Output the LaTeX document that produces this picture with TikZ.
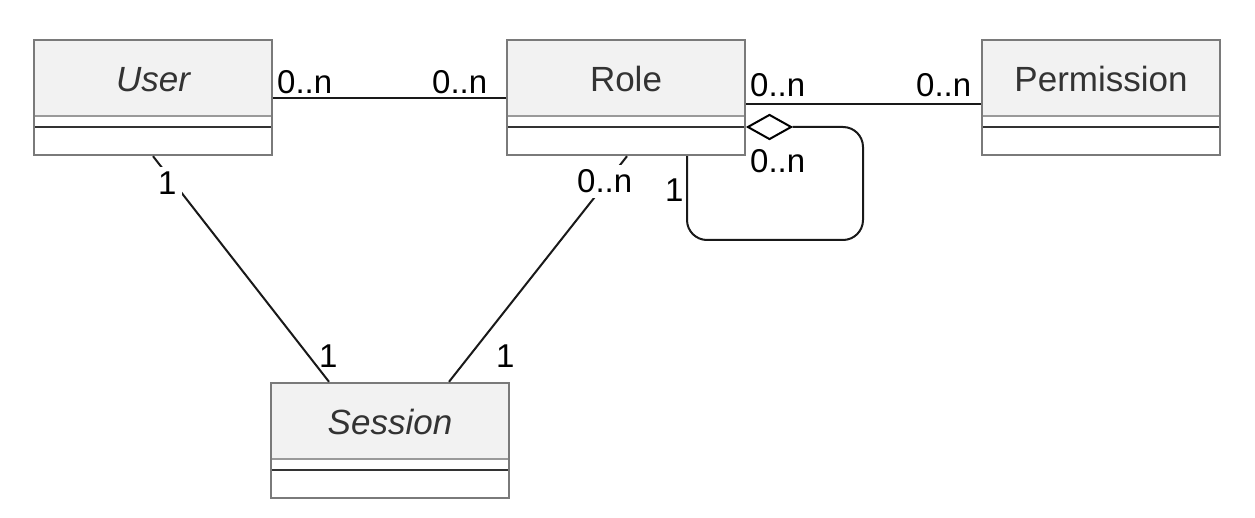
\documentclass[tikz,border=0pt]{standalone}
\usepackage{fontspec}
\setmainfont{Liberation Sans}
\usetikzlibrary{calc,shapes.geometric}
\definecolor{boxgray}{HTML}{7A7A7A}
\definecolor{namefill}{HTML}{F2F2F2}
\definecolor{sepgray}{HTML}{9A9A9A}
\definecolor{sepdark}{HTML}{333333}
\definecolor{txtgray}{HTML}{333333}
\newcommand\umlclass[5]{%
  \node[clsbox] (#1) at (#2,#3+57.5) {};
  \fill[namefill] (#1.north west) rectangle ($(#1.north east)+(0,76)$);
  \draw[sepline] ($(#1.north west)+(0,76)$) -- ($(#1.north east)+(0,76)$);
  \draw[sepdarkline] ($(#1.north west)+(0,87)$) -- ($(#1.north east)+(0,87)$);
  \draw[outline] (#1.north west) rectangle (#1.south east);
  \node[clsname,anchor=base,#5] (#1-name) at ($(#1.north)+(0,51.5)$) {#4};
}
\begin{document}
\begin{tikzpicture}[x=1pt,y=-1pt,
  clsbox/.style={rectangle, minimum width=238pt, minimum height=115pt, inner sep=0pt, outer sep=0pt},
  outline/.style={draw=boxgray, line width=2.4pt},
  sepline/.style={draw=sepgray, line width=1.6pt},
  sepdarkline/.style={draw=sepdark, line width=2.2pt},
  clsname/.style={font=\fontsize{35}{40}\selectfont, text=txtgray, inner sep=0pt},
  ital/.style={font=\fontsize{35}{40}\selectfont\itshape},
  upr/.style={},
  assoc/.style={draw=black!90, line width=2pt},
  mult/.style={font=\fontsize{33}{38}\selectfont, inner sep=0pt, anchor=base west},
  multcut/.style={font=\fontsize{33}{38}\selectfont, fill=white, inner sep=5pt, anchor=base west}
]
\useasboundingbox (0,0) rectangle (1255,518);
\fill[white] (0,0) rectangle (1255,518);

\umlclass{user}{153}{40}{User}{ital}
\umlclass{role}{626}{40}{Role}{upr}
\umlclass{perm}{1101}{40}{Permission}{upr}
\umlclass{session}{390}{383}{Session}{ital}

% associations
\draw[assoc] ($(user.north east)+(1.2,58)$) -- ($(role.north west)+(-1.2,58)$);
\draw[assoc] ($(role.north east)+(1.2,64)$) -- ($(perm.north west)+(-1.2,64)$);
\draw[assoc] ($(user.south west)+(119,1.2)$) -- ($(session.north west)+(58,-1.2)$);
\draw[assoc] ($(role.south west)+(120,1.2)$) -- ($(session.north west)+(178,-1.2)$);

% aggregation self-loop
\node[diamond, draw=black, fill=white, line width=2pt, minimum width=44pt, minimum height=25pt, inner sep=0pt, anchor=west] (agg) at ($(role.north east)+(1.5,87)$) {};
\draw[assoc, rounded corners=20pt] (agg.east) -- ($(role.north east)+(118,87)$) -- ($(role.south east)+(118,85)$) -- ($(role.south west)+(180,85)$) -- ($(role.south west)+(180,1.2)$);

% multiplicities
\node[mult] (m1) at (277,94) {0..n};
\node[mult] (m2) at (432,94) {0..n};
\node[mult] (m3) at (750,97) {0..n};
\node[mult] (m4) at (916,97) {0..n};
\node[mult] (m5) at (750,173) {0..n};
\node[mult] (m6) at (665,202) {1};
\node[multcut] (m7) at (572,193) {0..n};
\node[multcut] (m8) at (153,195) {1};
\node[mult] (m9) at (319,367) {1};
\node[mult] (m10) at (496,367) {1};
\end{tikzpicture}
\end{document}
